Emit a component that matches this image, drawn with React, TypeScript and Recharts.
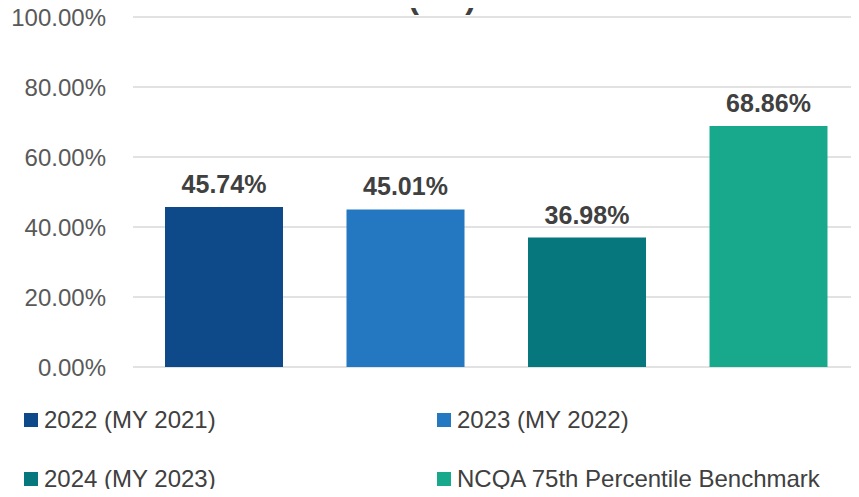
import { BarChart, Bar, Cell, CartesianGrid, XAxis, YAxis, LabelList } from 'recharts'

const categories = ['2022 (MY 2021)', '2023 (MY 2022)', '2024 (MY 2023)', 'NCQA 75th Percentile Benchmark']
const rates = [45.74, 45.01, 36.98, 68.86]
const colors = ['#0E4A8A', '#2378C1', '#06777C', '#18A98D']
const yTicks = [0, 20, 40, 60, 80, 100]

const data = categories.map((name, i) => ({ name, rate: rates[i] }))

const font = '"Liberation Sans", Arial, sans-serif'

// legend is laid out 2x2 under the plot
const legendPos = [
  { left: 24, top: 406 },
  { left: 437, top: 406 },
  { left: 24, top: 465 },
  { left: 437, top: 465 },
]

export default function App() {
  return (
    <div style={{ position: 'relative', width: 859, height: 497, margin: -8, overflow: 'hidden', fontFamily: font }}>
      <div style={{ position: 'absolute', left: 0, width: 884, top: -19, textAlign: 'center', fontSize: 32, lineHeight: '32px', fontWeight: 700, color: '#404040' }}>
        (3-5)
      </div>
      <BarChart width={859} height={497} data={data} margin={{ top: 17, right: 0, bottom: 130, left: 0 }} barCategoryGap={32}>
        <CartesianGrid vertical={false} stroke="#D9D9D9" strokeWidth={1.5} />
        <XAxis dataKey="name" hide />
        <YAxis
          domain={[0, 100]}
          ticks={yTicks}
          width={133}
          axisLine={false}
          tickLine={false}
          tickSize={0}
          tickMargin={27}
          tickFormatter={(v: number) => v.toFixed(2) + '%'}
          tick={{ fill: '#595959', fontSize: 24, fontFamily: font }}
        />
        <Bar dataKey="rate" isAnimationActive={false}>
          {data.map((d, i) => (
            <Cell key={d.name} fill={colors[i]} />
          ))}
          <LabelList
            dataKey="rate"
            position="top"
            offset={14}
            formatter={(v: number) => v.toFixed(2) + '%'}
            style={{ fill: '#404040', fontSize: 25, fontWeight: 700, fontFamily: font }}
          />
        </Bar>
      </BarChart>
      {categories.map((c, i) => (
        <div key={c} style={{ position: 'absolute', left: legendPos[i].left, top: legendPos[i].top, display: 'flex', alignItems: 'center', fontSize: 24, color: '#404040', lineHeight: '28px' }}>
          <span style={{ display: 'inline-block', width: 14, height: 14, background: colors[i], marginRight: 6 }} />
          {c}
        </div>
      ))}
    </div>
  )
}
